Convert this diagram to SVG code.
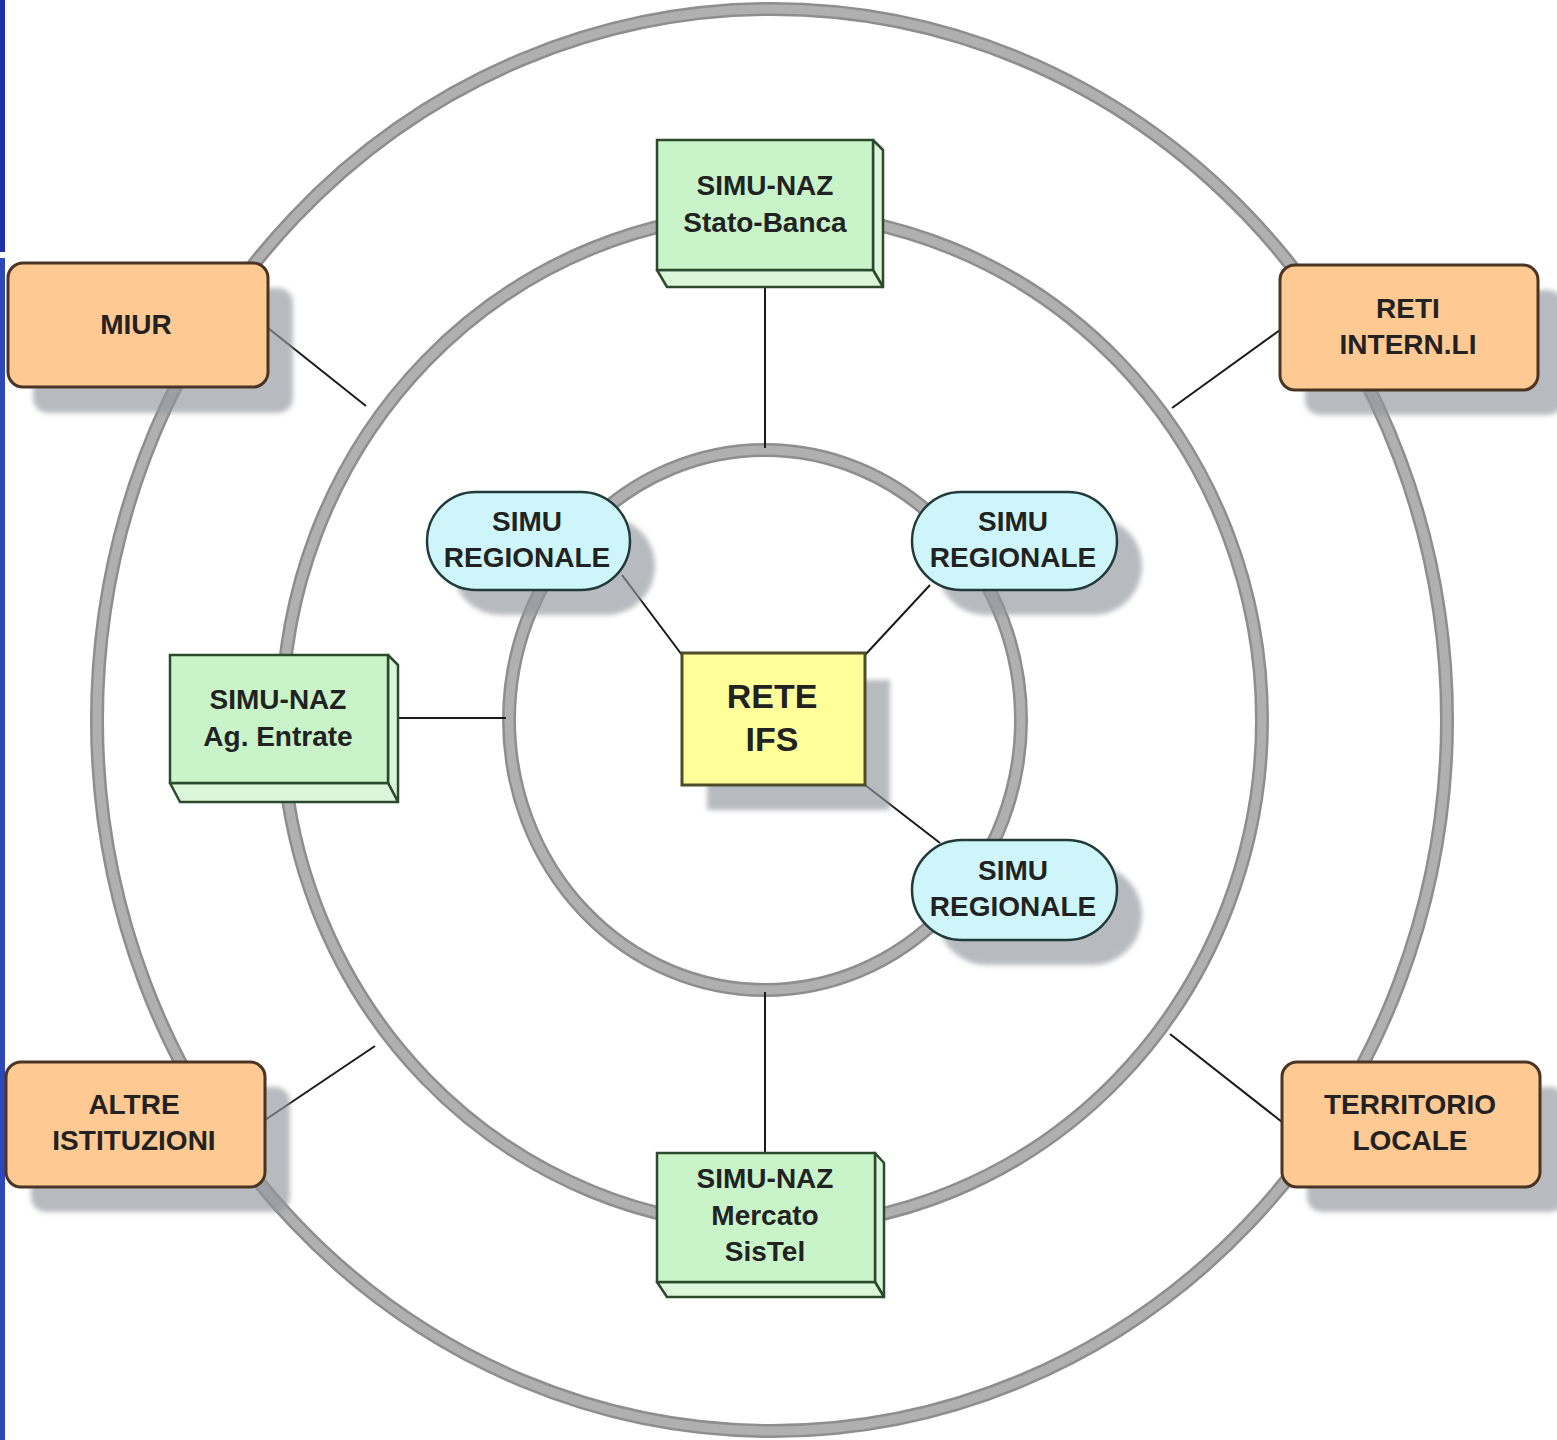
<svg xmlns="http://www.w3.org/2000/svg" width="1557" height="1440" viewBox="0 0 1557 1440">
<defs>
<filter id="blur" x="-10%" y="-10%" width="120%" height="120%"><feGaussianBlur stdDeviation="2.5"/></filter>
</defs>
<style>
.ring{fill:none;stroke:#8e8e8e;stroke-width:14}
.ringin{fill:none;stroke:#b0b0b0;stroke-width:9}
.conn{stroke:#1a1a1a;stroke-width:2;fill:none}
.shadow{fill:#92969e;opacity:0.65;filter:url(#blur)}
.org{fill:#fec993;stroke:#4a3424;stroke-width:3}
.grn{fill:#c9f4c9;stroke:#2c4a2c;stroke-width:2.5}
.grs{fill:#dbf7db;stroke:#2c4a2c;stroke-width:2.5;stroke-linejoin:round}
.yel{fill:#ffff99;stroke:#4d4d2a;stroke-width:3}
.cyn{fill:#cef6fa;stroke:#213a3a;stroke-width:2.5}
text{font-family:"Liberation Sans",Arial,sans-serif;font-weight:bold;font-size:28px;fill:#222;text-anchor:middle}
.big{font-size:34px}
</style>
<rect width="1557" height="1440" fill="#ffffff"/>
<rect x="0" y="0" width="5" height="252" fill="#1f30a6"/>
<rect x="0" y="258" width="5" height="1182" fill="#2f48b8"/>
<g id="rings">
<ellipse class="ring" cx="772" cy="720" rx="675" ry="711"/>
<ellipse class="ringin" cx="772" cy="720" rx="675" ry="711"/>
<ellipse class="ring" cx="772" cy="720" rx="490" ry="507"/>
<ellipse class="ringin" cx="772" cy="720" rx="490" ry="507"/>
<ellipse class="ring" cx="765" cy="720" rx="256" ry="270"/>
<ellipse class="ringin" cx="765" cy="720" rx="256" ry="270"/>
</g>
<g id="connectors">
<line class="conn" x1="765" y1="285" x2="765" y2="448"/>
<line class="conn" x1="765" y1="1153" x2="765" y2="992"/>
<line class="conn" x1="398" y1="718" x2="506" y2="718"/>
<line class="conn" x1="268" y1="328" x2="366" y2="406"/>
<line class="conn" x1="1280" y1="330" x2="1172" y2="408"/>
<line class="conn" x1="265" y1="1120" x2="375" y2="1046"/>
<line class="conn" x1="1282" y1="1122" x2="1170" y2="1034"/>
<line class="conn" x1="622" y1="575" x2="682" y2="655"/>
<line class="conn" x1="930" y1="585" x2="865" y2="655"/>
<line class="conn" x1="865" y1="785" x2="940" y2="843"/>
</g>
<g id="miur">
<rect class="shadow" x="33" y="288" width="260" height="125" rx="15"/>
<rect class="org" x="8" y="263" width="260" height="124" rx="15"/>
<text x="136" y="334">MIUR</text>
</g>
<g id="reti">
<rect class="shadow" x="1305" y="290" width="258" height="125" rx="15"/>
<rect class="org" x="1280" y="265" width="258" height="125" rx="15"/>
<text x="1408" y="318">RETI</text>
<text x="1408" y="354">INTERN.LI</text>
</g>
<g id="altre">
<rect class="shadow" x="31" y="1087" width="259" height="125" rx="15"/>
<rect class="org" x="6" y="1062" width="259" height="125" rx="15"/>
<text x="134" y="1114">ALTRE</text>
<text x="134" y="1150">ISTITUZIONI</text>
</g>
<g id="territorio">
<rect class="shadow" x="1307" y="1087" width="258" height="125" rx="15"/>
<rect class="org" x="1282" y="1062" width="258" height="125" rx="15"/>
<text x="1410" y="1114">TERRITORIO</text>
<text x="1410" y="1150">LOCALE</text>
</g>
<g id="stato-banca">
<polygon class="grs" points="873,140 883,150 883,287 873,270"/>
<polygon class="grs" points="657,270 873,270 883,287 667,287"/>
<rect class="grn" x="657" y="140" width="216" height="130"/>
<text x="765" y="195">SIMU-NAZ</text>
<text x="765" y="232">Stato-Banca</text>
</g>
<g id="ag-entrate">
<polygon class="grs" points="388,655 398,665 398,802 388,783"/>
<polygon class="grs" points="170,783 388,783 398,802 180,802"/>
<rect class="grn" x="170" y="655" width="218" height="128"/>
<text x="278" y="709">SIMU-NAZ</text>
<text x="278" y="746">Ag. Entrate</text>
</g>
<g id="mercato">
<polygon class="grs" points="875,1153 884,1163 884,1297 875,1282"/>
<polygon class="grs" points="657,1282 875,1282 884,1297 667,1297"/>
<rect class="grn" x="657" y="1153" width="218" height="129"/>
<text x="765" y="1188">SIMU-NAZ</text>
<text x="765" y="1225">Mercato</text>
<text x="765" y="1261">SisTel</text>
</g>
<g id="rete-ifs">
<rect class="shadow" x="707" y="680" width="183" height="130"/>
<rect class="yel" x="682" y="653" width="183" height="132"/>
<text class="big" x="772" y="708">RETE</text>
<text class="big" x="772" y="751">IFS</text>
</g>
<g id="simu-reg-1">
<rect class="shadow" x="452" y="517" width="203" height="98" rx="49"/>
<rect class="cyn" x="427" y="492" width="203" height="98" rx="49"/>
<text x="527" y="531">SIMU</text>
<text x="527" y="567">REGIONALE</text>
</g>
<g id="simu-reg-2">
<rect class="shadow" x="937" y="517" width="205" height="98" rx="49"/>
<rect class="cyn" x="912" y="492" width="205" height="98" rx="49"/>
<text x="1013" y="531">SIMU</text>
<text x="1013" y="567">REGIONALE</text>
</g>
<g id="simu-reg-3">
<rect class="shadow" x="937" y="865" width="205" height="100" rx="50"/>
<rect class="cyn" x="912" y="840" width="205" height="100" rx="50"/>
<text x="1013" y="880">SIMU</text>
<text x="1013" y="916">REGIONALE</text>
</g>
</svg>
